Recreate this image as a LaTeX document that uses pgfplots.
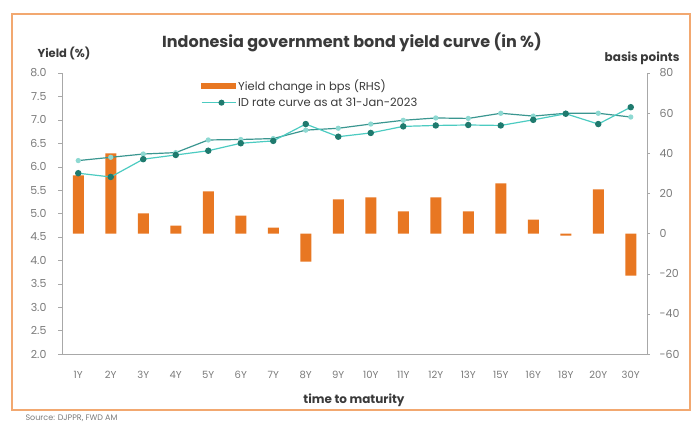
\documentclass[border=0pt]{standalone}
\usepackage{pgfplots}
\pgfplotsset{compat=1.18}
\usepackage{fontspec}
\setmainfont{Poppins}
\definecolor{fwdorange}{HTML}{E87722}
\definecolor{borderorange}{HTML}{F2A870}
\definecolor{tealdark}{HTML}{1F7A6E}
\definecolor{turq}{HTML}{4CCBC1}
\definecolor{slateteal}{HTML}{3A9690}
\definecolor{paleturq}{HTML}{8ED9D2}
\definecolor{ticklab}{HTML}{7A7A7A}
\definecolor{axisgray}{HTML}{A8A8A8}
\definecolor{titlegray}{HTML}{3A3A3A}

\pgfplotstableread{
x bp
0 29
1 40
2 10
3 4
4 21
5 9
6 3
7 -14
8 17
9 18
10 11
11 18
12 11
13 25
14 7
15 -1
16 22
17 -21
}\bars

\pgfplotstableread{
x y
0 6.13
1 6.20
2 6.27
3 6.30
4 6.57
5 6.58
6 6.60
7 6.78
8 6.82
9 6.91
10 6.99
11 7.04
12 7.03
13 7.14
14 7.08
15 7.14
16 7.14
17 7.06
}\curveA

\pgfplotstableread{
x y
0 5.86
1 5.78
2 6.16
3 6.25
4 6.34
5 6.50
6 6.55
7 6.91
8 6.64
9 6.72
10 6.86
11 6.88
12 6.89
13 6.88
14 7.00
15 7.13
16 6.91
17 7.27
}\curveB

\begin{document}
\begin{tikzpicture}[x=1pt,y=1pt]
\useasboundingbox (0,0) rectangle (697,423);
\draw[borderorange, line width=1.8pt] (12,13) rectangle (690,409);

% bars on right axis
\begin{axis}[
  at={(62pt,69pt)}, anchor=south west, scale only axis,
  width=585pt, height=281pt,
  xmin=-0.5, xmax=17.5, ymin=-60, ymax=80,
  axis x line=none, axis y line*=right,
  ytick={-60,-40,...,80},
  tick align=outside, major tick length=3pt,
  y axis line style={draw=axisgray, line width=0.6pt},
  ytick style={draw=axisgray},
  yticklabel style={font=\fontsize{11}{13}\selectfont, text=ticklab, xshift=6pt},
  /pgf/number format/assume math mode=true,
]
\addplot[ybar, bar width=11pt, fill=fwdorange, draw=none, bar shift=0pt] table[x=x, y=bp] {\bars};
\end{axis}

% yield curves on left axis
\begin{axis}[
  at={(62pt,69pt)}, anchor=south west, scale only axis,
  width=585pt, height=281pt,
  xmin=-0.5, xmax=17.5, ymin=2, ymax=8,
  axis x line*=bottom, axis y line*=left,
  xtick={0,...,17},
  xticklabels={1Y,2Y,3Y,4Y,5Y,6Y,7Y,8Y,9Y,10Y,11Y,12Y,13Y,15Y,16Y,18Y,20Y,30Y},
  minor xtick={-0.5,0.5,...,17.5},
  ytick={2,2.5,...,8},
  tick align=outside, major tick length=4pt, minor tick length=4pt,
  xtick style={draw=none}, minor tick style={draw=axisgray},
  ytick style={draw=axisgray},
  axis line style={draw=axisgray, line width=0.6pt},
  yticklabel style={font=\fontsize{11}{13}\selectfont, text=ticklab, xshift=-8pt, /pgf/number format/.cd, fixed, fixed zerofill, precision=1},
  xticklabel style={font=\fontsize{10}{12}\selectfont, text=ticklab, yshift=-10pt},
  /pgf/number format/assume math mode=true,
  legend style={at={(0.232,0.992)}, anchor=north west, draw=none, fill=none,
    font=\fontsize{11.5}{13}\selectfont, text=titlegray, row sep=2pt},
  legend cell align=left,
]
\addlegendimage{legend image code/.code={\fill[fwdorange] (0pt,-2.2pt) rectangle (34pt,2.2pt);}}
\addlegendentry{Yield change in bps (RHS)}
\addplot[slateteal, line width=1.2pt, mark=*, mark size=2pt, mark options={fill=paleturq, draw=paleturq}, forget plot] table[x=x,y=y] {\curveA};
\addplot[turq, line width=1.2pt, mark=*, mark size=2.6pt, mark options={fill=tealdark, draw=tealdark},
  legend image code/.code={\draw[turq, line width=1.2pt] (0pt,0pt) -- (34pt,0pt); \fill[tealdark] (20pt,0pt) circle (2.4pt);}] table[x=x,y=y] {\curveB};
\addlegendentry{ID rate curve as at 31-Jan-2023}
\end{axis}

\node[font=\bfseries\fontsize{16}{18}\selectfont, text=titlegray] at (352,381) {Indonesia government bond yield curve (in \%)};
\node[font=\bfseries\fontsize{11.5}{13}\selectfont, text=titlegray] at (64,370) {Yield (\%)};
\node[font=\bfseries\fontsize{12}{14}\selectfont, text=titlegray, anchor=east] at (683,365) {basis points};
\node[font=\bfseries\fontsize{12}{14}\selectfont, text=titlegray] at (354,23) {time to maturity};
\node[font=\fontsize{8}{10}\selectfont, text=ticklab, anchor=west] at (22,5) {Source: DJPPR, FWD AM};
\end{tikzpicture}
\end{document}
